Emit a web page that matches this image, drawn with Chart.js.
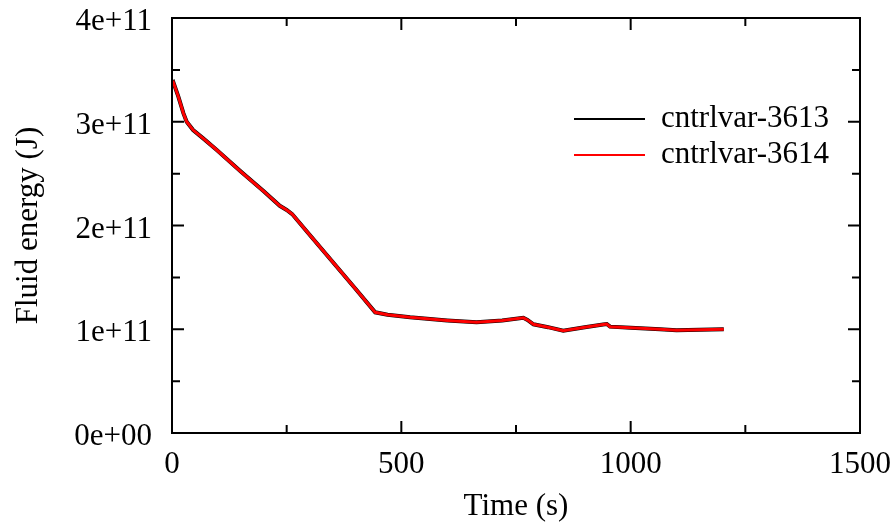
<!DOCTYPE html>
<html>
<head>
<meta charset="utf-8">
<script src="https://cdn.jsdelivr.net/npm/chart.js@4.4.1/dist/chart.umd.min.js"></script>
<style>
  html, body { margin: 0; padding: 0; background: #fff; }
  #wrap { width: 895px; height: 522px; }
</style>
</head>
<body>
<div id="wrap"><canvas id="energyChart" width="895" height="522"></canvas></div>
<script>
// ===================================
// DATA
// ===================================
const timeSec = [
  0, 3, 14, 25, 32, 46, 68, 97, 150, 200, 235, 250, 262, 300, 350, 400,
  443, 470, 519, 600, 664, 720, 766, 775, 788, 820, 853, 900, 940, 948,
  955, 1000, 1064, 1100, 1150, 1203
];
const energy3613 = [
  3.37e11, 3.38e11, 3.24e11, 3.08e11, 3.00e11, 2.92e11, 2.84e11, 2.73e11,
  2.52e11, 2.33e11, 2.19e11, 2.15e11, 2.11e11, 1.91e11, 1.65e11, 1.39e11,
  1.163e11, 1.14e11, 1.115e11, 1.085e11, 1.067e11, 1.085e11, 1.11e11, 1.09e11,
  1.048e11, 1.02e11, 0.986e11, 1.02e11, 1.045e11, 1.05e11, 1.025e11, 1.015e11,
  1.0e11, 0.99e11, 0.995e11, 1.0e11
];
const energy3614 = [
  3.37e11, 3.38e11, 3.24e11, 3.08e11, 3.00e11, 2.92e11, 2.84e11, 2.73e11,
  2.52e11, 2.33e11, 2.19e11, 2.15e11, 2.11e11, 1.91e11, 1.65e11, 1.39e11,
  1.163e11, 1.14e11, 1.115e11, 1.085e11, 1.067e11, 1.085e11, 1.11e11, 1.09e11,
  1.048e11, 1.02e11, 0.986e11, 1.02e11, 1.045e11, 1.05e11, 1.025e11, 1.015e11,
  1.0e11, 0.99e11, 0.995e11, 1.0e11
];
const seriesLabels = ['cntrlvar-3613', 'cntrlvar-3614'];
const seriesColors = ['#000000', '#ff0000'];
const xTickValues = [0, 500, 1000, 1500];
const yTickValues = [0, 1e11, 2e11, 3e11, 4e11];

const FONT = '"Liberation Serif", "Times New Roman", serif';
const FONT_SIZE = 31;

// gnuplot-style "1e+11" / "0e+00"
function sciLabel(v) {
  const s = Number(v).toExponential(0);
  const [m, e] = s.split('e');
  const sign = e[0];
  const digits = e.slice(1).padStart(2, '0');
  return m + 'e' + sign + digits;
}

const toPoints = (ys) => timeSec.map((t, i) => ({ x: t, y: ys[i] }));

// --- frame, inward ticks and legend, gnuplot style ---
const gnuplotFrame = {
  id: 'gnuplotFrame',
  afterDraw(chart) {
    const { ctx, chartArea: a, scales } = chart;
    const xs = scales.x, ys = scales.y;
    ctx.save();
    ctx.strokeStyle = '#000';
    ctx.lineWidth = 2;
    ctx.strokeRect(a.left, a.top, a.right - a.left, a.bottom - a.top);

    const major = 12, minor = 8;
    ctx.beginPath();
    xTickValues.forEach((v, i) => {
      const px = xs.getPixelForValue(v);
      ctx.moveTo(px, a.bottom); ctx.lineTo(px, a.bottom - major);
      ctx.moveTo(px, a.top); ctx.lineTo(px, a.top + major);
      if (i < xTickValues.length - 1) {
        const mx = xs.getPixelForValue((v + xTickValues[i + 1]) / 2);
        ctx.moveTo(mx, a.bottom); ctx.lineTo(mx, a.bottom - minor);
        ctx.moveTo(mx, a.top); ctx.lineTo(mx, a.top + minor);
      }
    });
    yTickValues.forEach((v, i) => {
      const py = ys.getPixelForValue(v);
      ctx.moveTo(a.left, py); ctx.lineTo(a.left + major, py);
      ctx.moveTo(a.right, py); ctx.lineTo(a.right - major, py);
      if (i < yTickValues.length - 1) {
        const my = ys.getPixelForValue((v + yTickValues[i + 1]) / 2);
        ctx.moveTo(a.left, my); ctx.lineTo(a.left + minor, my);
        ctx.moveTo(a.right, my); ctx.lineTo(a.right - minor, my);
      }
    });
    ctx.stroke();

    // legend
    ctx.font = FONT_SIZE + 'px ' + FONT;
    ctx.textBaseline = 'middle';
    ctx.textAlign = 'left';
    const lx0 = 574, lx1 = 645, tx = 661, ly = [119, 155];
    seriesLabels.forEach((lab, i) => {
      ctx.strokeStyle = seriesColors[i];
      ctx.lineWidth = 2;
      ctx.beginPath();
      ctx.moveTo(lx0, ly[i]); ctx.lineTo(lx1, ly[i]);
      ctx.stroke();
      ctx.fillStyle = '#000';
      ctx.fillText(lab, tx, ly[i]);
    });
    ctx.restore();
  }
};

const energyConfig = {
  type: 'line',
  data: {
    datasets: [
      {
        label: seriesLabels[0],
        data: toPoints(energy3613),
        borderColor: seriesColors[0],
        borderWidth: 4,
        pointRadius: 0,
        tension: 0,
        order: 1 // drawn underneath
      },
      {
        label: seriesLabels[1],
        data: toPoints(energy3614),
        borderColor: seriesColors[1],
        borderWidth: 3,
        pointRadius: 0,
        tension: 0,
        order: 0 // red on top
      }
    ]
  },
  options: {
    responsive: false,
    animation: false,
    devicePixelRatio: 1,
    layout: { padding: { left: 0, top: 18, right: 35, bottom: 0 } },
    plugins: {
      legend: { display: false },
      tooltip: { enabled: false }
    },
    scales: {
      x: {
        type: 'linear',
        min: 0,
        max: 1500,
        afterBuildTicks: (s) => { s.ticks = xTickValues.map(v => ({ value: v })); },
        afterFit: (s) => {
          s.height = 89;
          s.paddingLeft = 0; s.paddingRight = 0;
        },
        grid: { display: false, drawTicks: false },
        border: { display: false },
        ticks: {
          color: '#000',
          padding: 13,
          maxRotation: 0,
          font: { family: FONT, size: FONT_SIZE },
          callback: (v) => String(v)
        },
        title: {
          display: true,
          text: 'Time (s)',
          color: '#000',
          font: { family: FONT, size: FONT_SIZE },
          padding: { top: 0, bottom: -3 }
        }
      },
      y: {
        type: 'linear',
        min: 0,
        max: 4e11,
        afterBuildTicks: (s) => { s.ticks = yTickValues.map(v => ({ value: v })); },
        afterFit: (s) => {
          s.width = 172;
          s.paddingTop = 0; s.paddingBottom = 0;
        },
        grid: { display: false, drawTicks: false },
        border: { display: false },
        ticks: {
          color: '#000',
          padding: 20,
          labelOffset: 4,
          font: { family: FONT, size: FONT_SIZE },
          callback: (v) => sciLabel(v)
        },
        title: {
          display: true,
          text: 'Fluid energy (J)',
          color: '#000',
          font: { family: FONT, size: FONT_SIZE },
          padding: { top: 10, bottom: 0 }
        }
      }
    }
  },
  plugins: [gnuplotFrame]
};

// --- Render Chart ---
const ctxEnergy = document.getElementById('energyChart').getContext('2d');
new Chart(ctxEnergy, energyConfig);
</script>
</body>
</html>
